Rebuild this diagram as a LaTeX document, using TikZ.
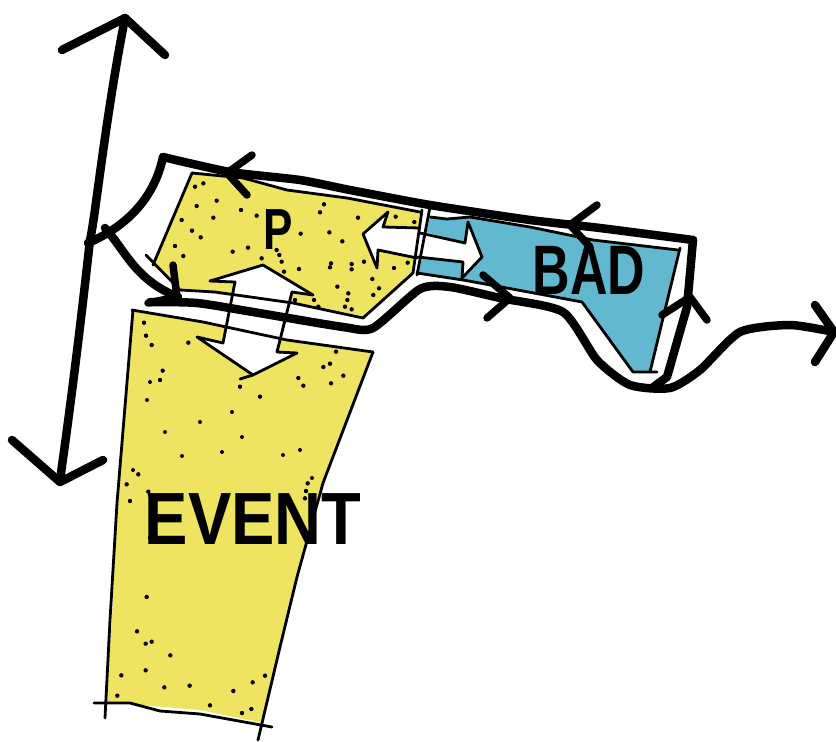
\documentclass[tikz,border=0pt]{standalone}
\usepackage{fontspec}
\setmainfont{Liberation Sans}
\definecolor{sunyellow}{HTML}{EEE461}
\definecolor{padblue}{HTML}{62B8CF}
\tikzset{
  thin ink/.style={line width=2.8pt,line cap=round,line join=round},
  thick ink/.style={line width=8.5pt,line cap=round,line join=round},
  med ink/.style={line width=7.5pt,line cap=round,line join=round},
  label ink/.style={font=\bfseries,inner sep=0pt}
}
\begin{document}
\begin{tikzpicture}[x=1pt,y=-1pt]
\useasboundingbox (0,0) rectangle (836,742);
% yellow fills
\fill[sunyellow] (192,173) -- (243,178) -- (287,190) -- (347,198) -- (420,212) -- (413,273) -- (363,318) -- (293,303) -- (180,290) -- (153,265) -- cycle;
\fill[sunyellow] (132,310) -- (203,322) -- (287,340) -- (373,352) -- (323,483) -- (297,577) -- (280,647) -- (263,723) -- (200,710) -- (105,702) -- (112,620) -- (117,503) -- cycle;
% blue fill
\fill[padblue] (430,217) -- (447,219) -- (470,217) -- (530,227) -- (593,240) -- (678,250) -- (650,372) -- (633,372) -- (582,302) -- (507,288) -- (463,280) -- (417,273) -- cycle;
% white arrows
\fill[white] (210,281) -- (263,265) -- (313,295) -- (292,292) -- (277,352) -- (297,353) -- (253,375) -- (197,337) -- (223,343) -- (235,282) -- cycle;
\fill[white] (424,228) -- (383,227) -- (388,212) -- (363,234) -- (377,268) -- (378,250) -- (418,258) -- cycle;
\fill[white] (418,230) -- (465,243) -- (468,222) -- (482,257) -- (462,278) -- (463,262) -- (414,257) -- cycle;
% dots in P and top of EVENT
\foreach \a/\b in {195/140,220/130,200/198,260/182,333/210,380/227,250/233,155/240,186/272,212/292,135/318,160/348,308/335,354/323,440/330,448/345,395/355,455/365,462/395,507/387,512/281,582/193,570/217,684/233,598/277,637/304,603/370,600/382,665/372,665/388,702/365,792/384,833/368,727/417,747/445,622/440,655/460,730/465,652/480,645/500,665/508,565/500,552/480,495/480,797/230,853/246,42/548,48/587,65/615,175/608,98/692,90/720,330/740,390/770,505/714,520/737,603/730,640/707,580/681,600/671,618/635}
  \fill ({130+\a/3},{140+\b/3}) circle (2.2);
% dots in lower EVENT
\foreach \a/\b in {145/13,110/43,120/93,175/65,180/75,180/203,653/40,648/63,645/85,170/381,141/484,167/521,185/515,241/556,167/601,94/616,223/652,299/647,82/677,360/706,430/663,488/637,525/617,484/717,456/729}
  \fill ({90+\a/3},{470+\b/3}) circle (2.2);
% dots in middle of EVENT
\foreach \a/\b in {147/400,232/412,200/422,242/437,182/456,165/432,133/470,283/455,300/450,312/478,222/452,150/382}
  \fill (\a,\b) circle (2);
% outlines of P
\draw[thin ink] (192,173) -- (153,265) (146,255) -- (180,290) -- (215,292) -- (293,303) -- (363,318) -- (413,273);
\draw[thin ink] (192,173) -- (243,178) -- (287,190) -- (347,198) -- (420,212);
\draw[thin ink] (422,210) -- (413,273) (430,207) -- (417,275);
% outlines of EVENT
\draw[thin ink] (132,310) -- (203,322) -- (287,340) -- (373,352);
\draw[thin ink] (133,310) -- (117,503) -- (110,620) -- (105,718);
\draw[thin ink] (94,703) -- (130,703) -- (160,711) -- (200,714) -- (272,727);
\draw[thin ink] (373,352) -- (323,483) -- (297,577) -- (280,647) -- (258,740);
% outlines of BAD
\draw[thin ink] (430,217) -- (447,219) -- (470,217) -- (530,227) -- (593,240) -- (678,250);
\draw[thin ink] (680,248) -- (650,372) (657,372) -- (633,372) -- (582,302) -- (507,288) -- (463,280) -- (417,273);
% white double arrow P/EVENT
\draw[thin ink] (210,281) -- (263,265) -- (313,295) (292,292) -- (277,352) -- (297,353) -- (253,375) -- (240,379);
\draw[thin ink] (235,282) -- (223,343) -- (197,337) -- (253,375);
\draw[thin ink] (210,281) -- (235,282) (292,292) -- (313,295);
% white double arrow P/BAD
\draw[thin ink] (420,228) -- (383,227) -- (388,212) -- (363,234) -- (377,268) -- (378,250) -- (417,258);
\draw[thin ink] (420,233) -- (465,243) -- (468,222) -- (482,257) -- (462,278) -- (463,262) -- (418,257);
% heavy contour
\draw[thick ink] plot[smooth,tension=.35] coordinates {(163,157) (230,172) (300,180) (350,190) (430,205) (530,220) (600,228) (693,240)};
\draw[thick ink] (693,240) -- (687,307) -- (667,377) -- (652,388);
\draw[thick ink] plot[smooth,tension=.4] coordinates {(150,302) (197,303) (253,312) (343,327) (373,328) (420,289) (450,287) (500,298) (563,312) (597,360) (630,385) (670,388) (700,370) (740,332) (790,325) (834,332)};
\draw[thick ink] (163,157) .. controls (155,195) and (130,225) .. (88,243);
\draw[thick ink] (105,228) .. controls (125,250) and (135,280) .. (178,297);
% vertical double arrow
\draw[thick ink] (125,18) .. controls (105,120) and (95,220) .. (90,240) .. controls (80,330) and (70,410) .. (60,480);
\draw[thick ink] (62,50) -- (125,18) -- (165,55);
\draw[thick ink] (12,440) -- (60,482) -- (103,460);
% direction ticks
\draw[med ink] (252,155) -- (227,173) -- (247,195);
\draw[med ink] (173,265) -- (177,297) -- (148,303);
\draw[med ink] (597,205) -- (570,225) -- (590,247);
\draw[med ink] (483,275) -- (510,298) -- (487,318);
\draw[med ink] (662,315) -- (690,297) -- (707,320);
\draw[thick ink] (815,305) -- (834,332) -- (815,362);
% labels
\node[label ink,xscale=4.4,yscale=5.8] (plabel) at (278,230) {P};
\node[label ink,xscale=5.2,yscale=7] (badlabel) at (589,270) {BAD};
\node[label ink,xscale=6.5,yscale=7.4] (eventlabel) at (253,519) {EVENT};
\end{tikzpicture}
\end{document}
